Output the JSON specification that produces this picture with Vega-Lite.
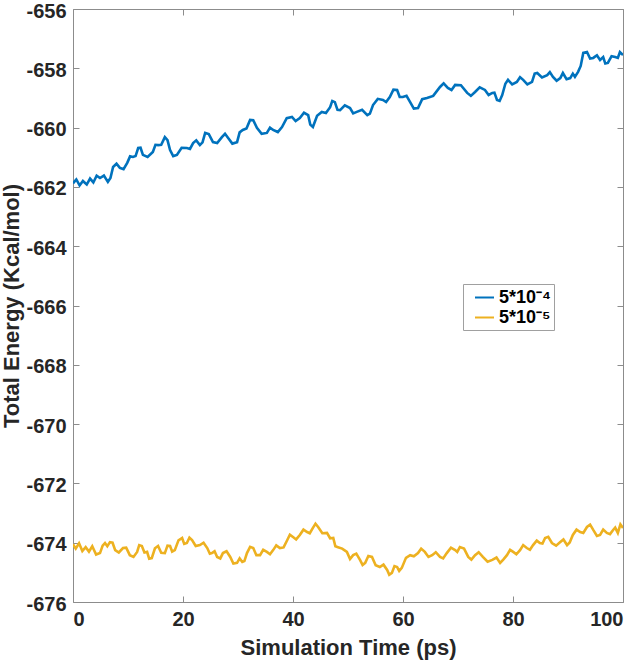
{
  "$schema": "https://vega.github.io/schema/vega-lite/v6.json",
  "width": 550,
  "height": 593,
  "autosize": {"type": "none"},
  "padding": {"left": 73, "top": 9, "right": 18, "bottom": 59},
  "background": "white",
  "config": {
    "view": {"stroke": null},
    "font": "Liberation Sans",
    "axis": {
      "grid": false,
      "domainColor": "#8c8c8c",
      "domainWidth": 1,
      "tickColor": "#8c8c8c",
      "tickSize": -6,
      "labelColor": "#262626",
      "labelFont": "Liberation Sans",
      "labelFontSize": 20,
      "labelFontWeight": "bold",
      "labelExpr": "replace(datum.label, '−', '-')",
      "titleColor": "#262626",
      "titleFont": "Liberation Sans",
      "titleFontSize": 22,
      "titleFontWeight": "bold"
    }
  },
  "datasets": {
    "energy": [
      {"t":0,"e":-661.88,"s":"5*10⁻⁴"},{"t":0.6,"e":-661.75,"s":"5*10⁻⁴"},{"t":1.2,"e":-661.95,"s":"5*10⁻⁴"},{"t":1.8,"e":-661.80,"s":"5*10⁻⁴"},{"t":2.5,"e":-661.92,"s":"5*10⁻⁴"},{"t":3.1,"e":-661.72,"s":"5*10⁻⁴"},{"t":3.7,"e":-661.85,"s":"5*10⁻⁴"},{"t":4.3,"e":-661.62,"s":"5*10⁻⁴"},
      {"t":4.91,"e":-661.70,"s":"5*10⁻⁴"},{"t":5.62,"e":-661.62,"s":"5*10⁻⁴"},{"t":6.34,"e":-661.83,"s":"5*10⁻⁴"},{"t":6.81,"e":-661.70,"s":"5*10⁻⁴"},{"t":7.29,"e":-661.33,"s":"5*10⁻⁴"},{"t":7.91,"e":-661.22,"s":"5*10⁻⁴"},{"t":8.52,"e":-661.36,"s":"5*10⁻⁴"},{"t":9.19,"e":-661.40,"s":"5*10⁻⁴"},{"t":9.86,"e":-661.19,"s":"5*10⁻⁴"},{"t":10.38,"e":-660.97,"s":"5*10⁻⁴"},{"t":10.90,"e":-660.99,"s":"5*10⁻⁴"},{"t":11.38,"e":-660.96,"s":"5*10⁻⁴"},{"t":11.85,"e":-660.69,"s":"5*10⁻⁴"},{"t":12.28,"e":-660.68,"s":"5*10⁻⁴"},{"t":12.71,"e":-660.92,"s":"5*10⁻⁴"},{"t":13.56,"e":-660.99,"s":"5*10⁻⁴"},{"t":14.52,"e":-660.82,"s":"5*10⁻⁴"},{"t":14.99,"e":-660.58,"s":"5*10⁻⁴"},{"t":15.47,"e":-660.59,"s":"5*10⁻⁴"},{"t":16.04,"e":-660.58,"s":"5*10⁻⁴"},{"t":16.70,"e":-660.32,"s":"5*10⁻⁴"},{"t":17.18,"e":-660.42,"s":"5*10⁻⁴"},{"t":17.65,"e":-660.76,"s":"5*10⁻⁴"},{"t":18.22,"e":-660.96,"s":"5*10⁻⁴"},{"t":18.89,"e":-660.92,"s":"5*10⁻⁴"},{"t":19.75,"e":-660.68,"s":"5*10⁻⁴"},{"t":20.70,"e":-660.69,"s":"5*10⁻⁴"},{"t":21.27,"e":-660.72,"s":"5*10⁻⁴"},{"t":21.84,"e":-660.52,"s":"5*10⁻⁴"},{"t":22.41,"e":-660.43,"s":"5*10⁻⁴"},{"t":23.07,"e":-660.59,"s":"5*10⁻⁴"},{"t":23.55,"e":-660.50,"s":"5*10⁻⁴"},{"t":24.03,"e":-660.18,"s":"5*10⁻⁴"},{"t":24.69,"e":-660.22,"s":"5*10⁻⁴"},{"t":25.45,"e":-660.49,"s":"5*10⁻⁴"},{"t":26.21,"e":-660.52,"s":"5*10⁻⁴"},{"t":27.07,"e":-660.32,"s":"5*10⁻⁴"},{"t":27.64,"e":-660.21,"s":"5*10⁻⁴"},{"t":28.21,"e":-660.35,"s":"5*10⁻⁴"},{"t":28.97,"e":-660.54,"s":"5*10⁻⁴"},{"t":29.83,"e":-660.49,"s":"5*10⁻⁴"},{"t":30.30,"e":-660.16,"s":"5*10⁻⁴"},{"t":30.87,"e":-660.08,"s":"5*10⁻⁴"},{"t":31.54,"e":-660.03,"s":"5*10⁻⁴"},{"t":32.20,"e":-659.74,"s":"5*10⁻⁴"},{"t":32.77,"e":-659.75,"s":"5*10⁻⁴"},{"t":33.44,"e":-660.01,"s":"5*10⁻⁴"},{"t":34.30,"e":-660.21,"s":"5*10⁻⁴"},{"t":35.25,"e":-660.18,"s":"5*10⁻⁴"},{"t":35.82,"e":-660.00,"s":"5*10⁻⁴"},{"t":36.39,"e":-660.08,"s":"5*10⁻⁴"},{"t":37.24,"e":-660.15,"s":"5*10⁻⁴"},{"t":38.00,"e":-659.98,"s":"5*10⁻⁴"},{"t":38.86,"e":-659.68,"s":"5*10⁻⁴"},{"t":39.81,"e":-659.64,"s":"5*10⁻⁴"},{"t":40.48,"e":-659.78,"s":"5*10⁻⁴"},{"t":41.24,"e":-659.68,"s":"5*10⁻⁴"},{"t":42.00,"e":-659.50,"s":"5*10⁻⁴"},{"t":42.76,"e":-659.58,"s":"5*10⁻⁴"},{"t":43.14,"e":-659.90,"s":"5*10⁻⁴"},{"t":43.62,"e":-659.98,"s":"5*10⁻⁴"},{"t":44.38,"e":-659.60,"s":"5*10⁻⁴"},{"t":45.23,"e":-659.47,"s":"5*10⁻⁴"},{"t":45.99,"e":-659.51,"s":"5*10⁻⁴"},{"t":46.75,"e":-659.31,"s":"5*10⁻⁴"},{"t":47.14,"e":-659.10,"s":"5*10⁻⁴"},{"t":47.61,"e":-659.14,"s":"5*10⁻⁴"},{"t":48.09,"e":-659.40,"s":"5*10⁻⁴"},{"t":48.56,"e":-659.41,"s":"5*10⁻⁴"},{"t":49.42,"e":-659.25,"s":"5*10⁻⁴"},{"t":50.37,"e":-659.34,"s":"5*10⁻⁴"},{"t":50.94,"e":-659.52,"s":"5*10⁻⁴"},{"t":51.60,"e":-659.47,"s":"5*10⁻⁴"},{"t":52.56,"e":-659.40,"s":"5*10⁻⁴"},{"t":53.51,"e":-659.58,"s":"5*10⁻⁴"},{"t":53.98,"e":-659.53,"s":"5*10⁻⁴"},{"t":54.55,"e":-659.24,"s":"5*10⁻⁴"},{"t":55.41,"e":-659.03,"s":"5*10⁻⁴"},{"t":56.36,"e":-659.07,"s":"5*10⁻⁴"},{"t":56.93,"e":-659.14,"s":"5*10⁻⁴"},{"t":57.60,"e":-658.97,"s":"5*10⁻⁴"},{"t":58.26,"e":-658.72,"s":"5*10⁻⁴"},{"t":58.93,"e":-658.73,"s":"5*10⁻⁴"},{"t":59.40,"e":-658.97,"s":"5*10⁻⁴"},{"t":59.97,"e":-658.97,"s":"5*10⁻⁴"},{"t":60.64,"e":-658.93,"s":"5*10⁻⁴"},{"t":61.30,"e":-659.14,"s":"5*10⁻⁴"},{"t":61.97,"e":-659.36,"s":"5*10⁻⁴"},{"t":62.73,"e":-659.34,"s":"5*10⁻⁴"},{"t":63.49,"e":-659.04,"s":"5*10⁻⁴"},{"t":64.35,"e":-659.00,"s":"5*10⁻⁴"},{"t":65.49,"e":-658.93,"s":"5*10⁻⁴"},{"t":66.73,"e":-658.63,"s":"5*10⁻⁴"},{"t":67.39,"e":-658.51,"s":"5*10⁻⁴"},{"t":68.15,"e":-658.66,"s":"5*10⁻⁴"},{"t":68.82,"e":-658.73,"s":"5*10⁻⁴"},{"t":69.48,"e":-658.56,"s":"5*10⁻⁴"},{"t":70.53,"e":-658.57,"s":"5*10⁻⁴"},{"t":71.67,"e":-658.83,"s":"5*10⁻⁴"},{"t":72.34,"e":-658.93,"s":"5*10⁻⁴"},{"t":73.10,"e":-658.80,"s":"5*10⁻⁴"},{"t":73.95,"e":-658.64,"s":"5*10⁻⁴"},{"t":74.90,"e":-658.73,"s":"5*10⁻⁴"},{"t":75.57,"e":-658.90,"s":"5*10⁻⁴"},{"t":76.24,"e":-658.83,"s":"5*10⁻⁴"},{"t":76.62,"e":-658.82,"s":"5*10⁻⁴"},{"t":77.09,"e":-659.07,"s":"5*10⁻⁴"},{"t":77.57,"e":-659.10,"s":"5*10⁻⁴"},{"t":78.04,"e":-658.90,"s":"5*10⁻⁴"},{"t":78.61,"e":-658.52,"s":"5*10⁻⁴"},{"t":79.09,"e":-658.39,"s":"5*10⁻⁴"},{"t":79.85,"e":-658.54,"s":"5*10⁻⁴"},{"t":80.70,"e":-658.46,"s":"5*10⁻⁴"},{"t":81.28,"e":-658.30,"s":"5*10⁻⁴"},{"t":81.85,"e":-658.39,"s":"5*10⁻⁴"},{"t":82.61,"e":-658.54,"s":"5*10⁻⁴"},{"t":83.46,"e":-658.46,"s":"5*10⁻⁴"},{"t":83.94,"e":-658.18,"s":"5*10⁻⁴"},{"t":84.41,"e":-658.16,"s":"5*10⁻⁴"},{"t":85.27,"e":-658.31,"s":"5*10⁻⁴"},{"t":86.22,"e":-658.23,"s":"5*10⁻⁴"},{"t":86.70,"e":-658.13,"s":"5*10⁻⁴"},{"t":87.27,"e":-658.29,"s":"5*10⁻⁴"},{"t":87.93,"e":-658.42,"s":"5*10⁻⁴"},{"t":88.60,"e":-658.33,"s":"5*10⁻⁴"},{"t":89.07,"e":-658.16,"s":"5*10⁻⁴"},{"t":89.74,"e":-658.37,"s":"5*10⁻⁴"},{"t":90.40,"e":-658.33,"s":"5*10⁻⁴"},{"t":90.88,"e":-658.18,"s":"5*10⁻⁴"},{"t":91.26,"e":-658.29,"s":"5*10⁻⁴"},{"t":91.83,"e":-658.12,"s":"5*10⁻⁴"},{"t":92.31,"e":-657.92,"s":"5*10⁻⁴"},{"t":92.78,"e":-657.48,"s":"5*10⁻⁴"},{"t":93.45,"e":-657.45,"s":"5*10⁻⁴"},{"t":94.02,"e":-657.67,"s":"5*10⁻⁴"},{"t":94.59,"e":-657.65,"s":"5*10⁻⁴"},{"t":95.26,"e":-657.56,"s":"5*10⁻⁴"},{"t":95.83,"e":-657.72,"s":"5*10⁻⁴"},{"t":96.40,"e":-657.62,"s":"5*10⁻⁴"},{"t":96.78,"e":-657.84,"s":"5*10⁻⁴"},{"t":97.25,"e":-657.82,"s":"5*10⁻⁴"},{"t":97.92,"e":-657.59,"s":"5*10⁻⁴"},{"t":98.58,"e":-657.62,"s":"5*10⁻⁴"},{"t":99.06,"e":-657.65,"s":"5*10⁻⁴"},{"t":99.44,"e":-657.45,"s":"5*10⁻⁴"},{"t":100,"e":-657.55,"s":"5*10⁻⁴"},
      {"t":0,"e":-674.05,"s":"5*10⁻⁵"},{"t":0.5,"e":-674.20,"s":"5*10⁻⁵"},{"t":1.1,"e":-674.02,"s":"5*10⁻⁵"},{"t":1.7,"e":-674.28,"s":"5*10⁻⁵"},{"t":2.3,"e":-674.15,"s":"5*10⁻⁵"},{"t":2.9,"e":-674.30,"s":"5*10⁻⁵"},{"t":3.5,"e":-674.12,"s":"5*10⁻⁵"},{"t":4.2,"e":-674.40,"s":"5*10⁻⁵"},
      {"t":4.91,"e":-674.35,"s":"5*10⁻⁵"},{"t":5.39,"e":-674.10,"s":"5*10⁻⁵"},{"t":5.82,"e":-674.01,"s":"5*10⁻⁵"},{"t":6.24,"e":-674.12,"s":"5*10⁻⁵"},{"t":6.72,"e":-673.98,"s":"5*10⁻⁵"},{"t":7.19,"e":-674.00,"s":"5*10⁻⁵"},{"t":7.67,"e":-674.25,"s":"5*10⁻⁵"},{"t":8.33,"e":-674.33,"s":"5*10⁻⁵"},{"t":9.09,"e":-674.18,"s":"5*10⁻⁵"},{"t":9.67,"e":-674.17,"s":"5*10⁻⁵"},{"t":10.33,"e":-674.42,"s":"5*10⁻⁵"},{"t":11.00,"e":-674.48,"s":"5*10⁻⁵"},{"t":11.66,"e":-674.31,"s":"5*10⁻⁵"},{"t":12.04,"e":-674.08,"s":"5*10⁻⁵"},{"t":12.52,"e":-674.11,"s":"5*10⁻⁵"},{"t":12.99,"e":-674.33,"s":"5*10⁻⁵"},{"t":13.47,"e":-674.31,"s":"5*10⁻⁵"},{"t":13.85,"e":-674.54,"s":"5*10⁻⁵"},{"t":14.32,"e":-674.52,"s":"5*10⁻⁵"},{"t":14.90,"e":-674.19,"s":"5*10⁻⁵"},{"t":15.47,"e":-674.11,"s":"5*10⁻⁵"},{"t":16.04,"e":-674.34,"s":"5*10⁻⁵"},{"t":16.70,"e":-674.35,"s":"5*10⁻⁵"},{"t":17.18,"e":-674.10,"s":"5*10⁻⁵"},{"t":17.65,"e":-674.11,"s":"5*10⁻⁵"},{"t":18.03,"e":-674.30,"s":"5*10⁻⁵"},{"t":18.51,"e":-674.25,"s":"5*10⁻⁵"},{"t":19.18,"e":-673.92,"s":"5*10⁻⁵"},{"t":19.84,"e":-673.84,"s":"5*10⁻⁵"},{"t":20.22,"e":-674.04,"s":"5*10⁻⁵"},{"t":20.70,"e":-674.01,"s":"5*10⁻⁵"},{"t":21.17,"e":-673.83,"s":"5*10⁻⁵"},{"t":21.65,"e":-673.91,"s":"5*10⁻⁵"},{"t":22.31,"e":-674.11,"s":"5*10⁻⁵"},{"t":23.07,"e":-674.08,"s":"5*10⁻⁵"},{"t":23.74,"e":-674.00,"s":"5*10⁻⁵"},{"t":24.41,"e":-674.18,"s":"5*10⁻⁵"},{"t":24.88,"e":-674.37,"s":"5*10⁻⁵"},{"t":25.26,"e":-674.35,"s":"5*10⁻⁵"},{"t":25.74,"e":-674.29,"s":"5*10⁻⁵"},{"t":26.21,"e":-674.48,"s":"5*10⁻⁵"},{"t":26.78,"e":-674.53,"s":"5*10⁻⁵"},{"t":27.26,"e":-674.35,"s":"5*10⁻⁵"},{"t":27.92,"e":-674.29,"s":"5*10⁻⁵"},{"t":28.59,"e":-674.48,"s":"5*10⁻⁵"},{"t":29.16,"e":-674.70,"s":"5*10⁻⁵"},{"t":29.83,"e":-674.68,"s":"5*10⁻⁵"},{"t":30.30,"e":-674.53,"s":"5*10⁻⁵"},{"t":30.78,"e":-674.65,"s":"5*10⁻⁵"},{"t":31.16,"e":-674.62,"s":"5*10⁻⁵"},{"t":31.63,"e":-674.35,"s":"5*10⁻⁵"},{"t":32.20,"e":-674.14,"s":"5*10⁻⁵"},{"t":32.77,"e":-674.18,"s":"5*10⁻⁵"},{"t":33.34,"e":-674.42,"s":"5*10⁻⁵"},{"t":34.01,"e":-674.42,"s":"5*10⁻⁵"},{"t":34.58,"e":-674.24,"s":"5*10⁻⁵"},{"t":35.25,"e":-674.31,"s":"5*10⁻⁵"},{"t":35.82,"e":-674.39,"s":"5*10⁻⁵"},{"t":36.39,"e":-674.25,"s":"5*10⁻⁵"},{"t":36.96,"e":-674.09,"s":"5*10⁻⁵"},{"t":37.62,"e":-674.18,"s":"5*10⁻⁵"},{"t":38.29,"e":-674.16,"s":"5*10⁻⁵"},{"t":38.96,"e":-673.91,"s":"5*10⁻⁵"},{"t":39.43,"e":-673.73,"s":"5*10⁻⁵"},{"t":40.00,"e":-673.81,"s":"5*10⁻⁵"},{"t":40.57,"e":-673.89,"s":"5*10⁻⁵"},{"t":41.24,"e":-673.74,"s":"5*10⁻⁵"},{"t":41.90,"e":-673.56,"s":"5*10⁻⁵"},{"t":42.57,"e":-673.64,"s":"5*10⁻⁵"},{"t":43.05,"e":-673.68,"s":"5*10⁻⁵"},{"t":43.62,"e":-673.50,"s":"5*10⁻⁵"},{"t":44.09,"e":-673.36,"s":"5*10⁻⁵"},{"t":44.57,"e":-673.47,"s":"5*10⁻⁵"},{"t":45.33,"e":-673.68,"s":"5*10⁻⁵"},{"t":46.18,"e":-673.67,"s":"5*10⁻⁵"},{"t":46.75,"e":-673.85,"s":"5*10⁻⁵"},{"t":47.32,"e":-673.84,"s":"5*10⁻⁵"},{"t":47.70,"e":-674.12,"s":"5*10⁻⁵"},{"t":48.18,"e":-674.15,"s":"5*10⁻⁵"},{"t":48.94,"e":-674.20,"s":"5*10⁻⁵"},{"t":49.80,"e":-674.31,"s":"5*10⁻⁵"},{"t":50.37,"e":-674.55,"s":"5*10⁻⁵"},{"t":50.94,"e":-674.42,"s":"5*10⁻⁵"},{"t":51.51,"e":-674.37,"s":"5*10⁻⁵"},{"t":52.18,"e":-674.58,"s":"5*10⁻⁵"},{"t":52.65,"e":-674.75,"s":"5*10⁻⁵"},{"t":53.13,"e":-674.68,"s":"5*10⁻⁵"},{"t":53.70,"e":-674.45,"s":"5*10⁻⁵"},{"t":54.36,"e":-674.48,"s":"5*10⁻⁵"},{"t":55.03,"e":-674.76,"s":"5*10⁻⁵"},{"t":55.79,"e":-674.82,"s":"5*10⁻⁵"},{"t":56.45,"e":-674.74,"s":"5*10⁻⁵"},{"t":57.12,"e":-674.92,"s":"5*10⁻⁵"},{"t":57.50,"e":-675.08,"s":"5*10⁻⁵"},{"t":57.98,"e":-675.02,"s":"5*10⁻⁵"},{"t":58.45,"e":-674.79,"s":"5*10⁻⁵"},{"t":58.93,"e":-674.82,"s":"5*10⁻⁵"},{"t":59.31,"e":-674.95,"s":"5*10⁻⁵"},{"t":59.78,"e":-674.85,"s":"5*10⁻⁵"},{"t":60.54,"e":-674.51,"s":"5*10⁻⁵"},{"t":61.30,"e":-674.42,"s":"5*10⁻⁵"},{"t":61.97,"e":-674.46,"s":"5*10⁻⁵"},{"t":62.73,"e":-674.35,"s":"5*10⁻⁵"},{"t":63.30,"e":-674.20,"s":"5*10⁻⁵"},{"t":63.97,"e":-674.31,"s":"5*10⁻⁵"},{"t":64.63,"e":-674.48,"s":"5*10⁻⁵"},{"t":65.30,"e":-674.42,"s":"5*10⁻⁵"},{"t":65.96,"e":-674.32,"s":"5*10⁻⁵"},{"t":66.73,"e":-674.48,"s":"5*10⁻⁵"},{"t":67.30,"e":-674.53,"s":"5*10⁻⁵"},{"t":67.96,"e":-674.35,"s":"5*10⁻⁵"},{"t":68.72,"e":-674.17,"s":"5*10⁻⁵"},{"t":69.48,"e":-674.25,"s":"5*10⁻⁵"},{"t":69.86,"e":-674.31,"s":"5*10⁻⁵"},{"t":70.34,"e":-674.15,"s":"5*10⁻⁵"},{"t":71.10,"e":-674.20,"s":"5*10⁻⁵"},{"t":71.86,"e":-674.48,"s":"5*10⁻⁵"},{"t":72.43,"e":-674.57,"s":"5*10⁻⁵"},{"t":73.10,"e":-674.42,"s":"5*10⁻⁵"},{"t":73.76,"e":-674.32,"s":"5*10⁻⁵"},{"t":74.52,"e":-674.48,"s":"5*10⁻⁵"},{"t":75.38,"e":-674.64,"s":"5*10⁻⁵"},{"t":76.24,"e":-674.58,"s":"5*10⁻⁵"},{"t":77.00,"e":-674.50,"s":"5*10⁻⁵"},{"t":77.66,"e":-674.68,"s":"5*10⁻⁵"},{"t":78.23,"e":-674.57,"s":"5*10⁻⁵"},{"t":78.90,"e":-674.42,"s":"5*10⁻⁵"},{"t":79.47,"e":-674.24,"s":"5*10⁻⁵"},{"t":80.04,"e":-674.31,"s":"5*10⁻⁵"},{"t":80.61,"e":-674.39,"s":"5*10⁻⁵"},{"t":81.28,"e":-674.25,"s":"5*10⁻⁵"},{"t":81.85,"e":-674.08,"s":"5*10⁻⁵"},{"t":82.51,"e":-674.18,"s":"5*10⁻⁵"},{"t":83.08,"e":-674.24,"s":"5*10⁻⁵"},{"t":83.65,"e":-674.08,"s":"5*10⁻⁵"},{"t":84.32,"e":-673.93,"s":"5*10⁻⁵"},{"t":84.89,"e":-674.01,"s":"5*10⁻⁵"},{"t":85.36,"e":-674.03,"s":"5*10⁻⁵"},{"t":85.84,"e":-673.84,"s":"5*10⁻⁵"},{"t":86.41,"e":-673.80,"s":"5*10⁻⁵"},{"t":87.08,"e":-674.01,"s":"5*10⁻⁵"},{"t":87.84,"e":-674.10,"s":"5*10⁻⁵"},{"t":88.60,"e":-673.98,"s":"5*10⁻⁵"},{"t":89.17,"e":-673.89,"s":"5*10⁻⁵"},{"t":89.83,"e":-674.08,"s":"5*10⁻⁵"},{"t":90.31,"e":-673.99,"s":"5*10⁻⁵"},{"t":90.88,"e":-673.74,"s":"5*10⁻⁵"},{"t":91.55,"e":-673.56,"s":"5*10⁻⁵"},{"t":92.21,"e":-673.64,"s":"5*10⁻⁵"},{"t":92.78,"e":-673.67,"s":"5*10⁻⁵"},{"t":93.45,"e":-673.47,"s":"5*10⁻⁵"},{"t":94.02,"e":-673.39,"s":"5*10⁻⁵"},{"t":94.59,"e":-673.57,"s":"5*10⁻⁵"},{"t":95.26,"e":-673.77,"s":"5*10⁻⁵"},{"t":95.83,"e":-673.74,"s":"5*10⁻⁵"},{"t":96.40,"e":-673.56,"s":"5*10⁻⁵"},{"t":97.06,"e":-673.67,"s":"5*10⁻⁵"},{"t":97.64,"e":-673.71,"s":"5*10⁻⁵"},{"t":98.20,"e":-673.57,"s":"5*10⁻⁵"},{"t":98.58,"e":-673.49,"s":"5*10⁻⁵"},{"t":99.06,"e":-673.67,"s":"5*10⁻⁵"},{"t":99.53,"e":-673.38,"s":"5*10⁻⁵"},{"t":100,"e":-673.50,"s":"5*10⁻⁵"}
    ]
  },
  "data": {"name": "energy"},
  "layer": [
    {
      "mark": {"type": "line", "strokeWidth": 2.6, "clip": true},
      "encoding": {
        "x": {
          "field": "t", "type": "quantitative",
          "scale": {"domain": [0, 100], "nice": false, "zero": false},
          "axis": {"title": "Simulation Time (ps)", "values": [0, 20, 40, 60, 80, 100], "labelPadding": 13, "titlePadding": 8, "orient": "bottom"}
        },
        "y": {
          "field": "e", "type": "quantitative",
          "scale": {"domain": [-676, -656], "nice": false, "zero": false},
          "axis": {"title": "Total Energy (Kcal/mol)", "values": [-676, -674, -672, -670, -668, -666, -664, -662, -660, -658, -656], "labelPadding": 13, "labelOffset": 2, "titlePadding": 2, "orient": "left"}
        },
        "color": {
          "field": "s", "type": "nominal",
          "scale": {"domain": ["5*10⁻⁴", "5*10⁻⁵"], "range": ["#0072BD", "#EDB120"]},
          "legend": {
            "title": null,
            "orient": "none",
            "legendX": 390,
            "legendY": 275,
            "direction": "vertical",
            "symbolType": "stroke",
            "symbolSize": 361,
            "symbolStrokeWidth": 2,
            "symbolOffset": 8,
            "labelFont": "Liberation Sans",
            "labelFontSize": 18,
            "labelFontWeight": "bold",
            "labelColor": "#000000",
            "labelOffset": 4,
            "strokeColor": "#a0a0a0",
            "fillColor": "white",
            "padding": 3,
            "rowPadding": 0
          }
        },
        "detail": {"field": "s"}
      }
    },
    {
      "mark": {"type": "line", "opacity": 0},
      "encoding": {
        "x": {
          "field": "t", "type": "quantitative",
          "axis": {"orient": "top", "labels": false, "title": null, "values": [0, 20, 40, 60, 80, 100]}
        },
        "y": {
          "field": "e", "type": "quantitative",
          "axis": {"orient": "right", "labels": false, "title": null, "values": [-676, -674, -672, -670, -668, -666, -664, -662, -660, -658, -656]}
        },
        "detail": {"field": "s"}
      }
    }
  ],
  "resolve": {"axis": {"x": "independent", "y": "independent"}}
}
